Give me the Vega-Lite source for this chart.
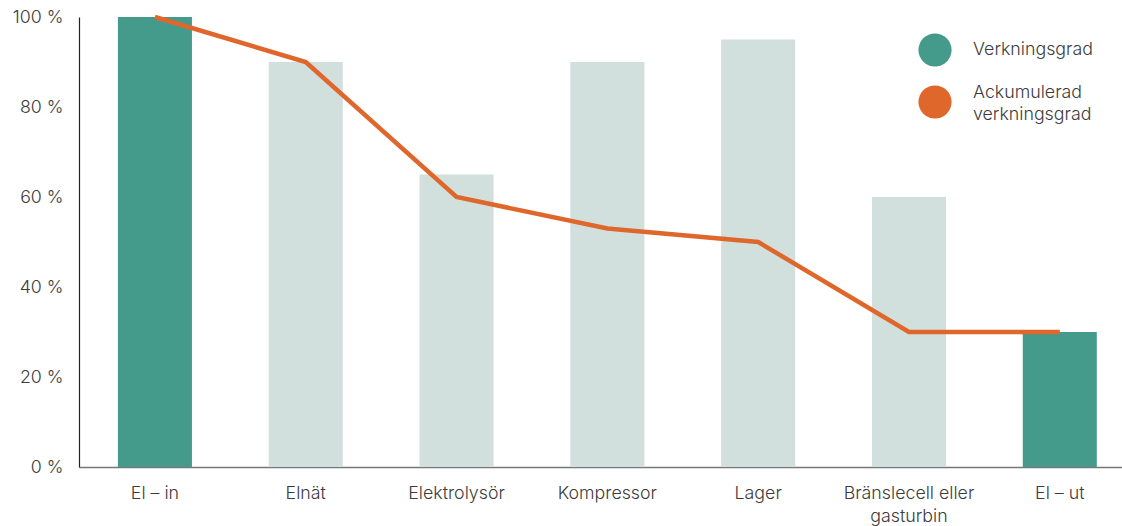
{
  "$schema": "https://vega.github.io/schema/vega-lite/v6.json",
  "width": 1043,
  "height": 450,
  "autosize": {"type": "none"},
  "padding": {"left": 79, "top": 17, "right": 0, "bottom": 59},
  "background": "white",
  "config": {
    "view": {"stroke": null},
    "font": "Inter",
    "axis": {"labelFont": "Inter", "labelFontWeight": 300, "labelColor": "#3c3c3c", "labelFontSize": 17.8, "grid": false, "ticks": false, "title": null},
    "legend": {"labelFont": "Inter", "labelFontWeight": 300, "labelColor": "#3c3c3c", "labelFontSize": 17.8}
  },
  "data": {
    "values": [
      {"kategori": "El – in", "verkningsgrad": 100, "ackumulerad": 100},
      {"kategori": "Elnät", "verkningsgrad": 90, "ackumulerad": 90},
      {"kategori": "Elektrolysör", "verkningsgrad": 65, "ackumulerad": 60},
      {"kategori": "Kompressor", "verkningsgrad": 90, "ackumulerad": 53},
      {"kategori": "Lager", "verkningsgrad": 95, "ackumulerad": 50},
      {"kategori": "Bränslecell eller gasturbin", "verkningsgrad": 60, "ackumulerad": 30},
      {"kategori": "El – ut", "verkningsgrad": 30, "ackumulerad": 30}
    ]
  },
  "encoding": {
    "x": {
      "field": "kategori",
      "type": "nominal",
      "sort": null,
      "scale": {"paddingInner": 0.509, "paddingOuter": 0.2125, "align": 0.607},
      "axis": {
        "labelAngle": 0,
        "labelPadding": 17,
        "labelLineHeight": 23,
        "domainColor": "#777777",
        "domainWidth": 1.5,
        "labelExpr": "datum.label == 'Bränslecell eller gasturbin' ? ['Bränslecell eller', 'gasturbin'] : datum.label"
      }
    }
  },
  "layer": [
    {
      "mark": {"type": "bar"},
      "encoding": {
        "y": {
          "field": "verkningsgrad",
          "type": "quantitative",
          "scale": {"domain": [0, 100]},
          "axis": {
            "values": [0, 20, 40, 60, 80, 100],
            "labelExpr": "datum.value + ' %'",
            "labelPadding": 16,
            "domainColor": "#222222",
            "domainWidth": 1.2
          }
        },
        "color": {
          "condition": {"test": "datum.kategori == 'El – in' || datum.kategori == 'El – ut'", "value": "#459b8b"},
          "value": "#d2e0dd"
        }
      }
    },
    {
      "mark": {"type": "line", "strokeWidth": 4.5, "strokeCap": "butt", "strokeJoin": "miter"},
      "encoding": {
        "y": {"field": "ackumulerad", "type": "quantitative"},
        "color": {
          "datum": "Ackumulerad verkningsgrad",
          "type": "nominal",
          "scale": {"domain": ["Verkningsgrad", "Ackumulerad verkningsgrad"], "range": ["#459b8b", "#df672b"]},
          "legend": {
            "title": null,
            "orient": "none",
            "legendX": 839,
            "legendY": 16,
            "padding": 0,
            "symbolType": "circle",
            "symbolSize": 1100,
            "symbolStrokeWidth": 0,
            "labelOffset": 21,
            "rowPadding": 17,
            "labelLimit": 300,
            "labelExpr": "datum.label == 'Ackumulerad verkningsgrad' ? ['Ackumulerad', 'verkningsgrad'] : datum.label",
            "encode": {
              "symbols": {"update": {"fill": {"scale": "color", "field": "value"}, "fillOpacity": {"value": 1}, "strokeWidth": {"value": 0}}},
              "labels": {"update": {"lineHeight": {"value": 22}, "dy": {"signal": "datum.value == 'Ackumulerad verkningsgrad' ? -9 : 0"}}}
            }
          }
        }
      }
    }
  ]
}
